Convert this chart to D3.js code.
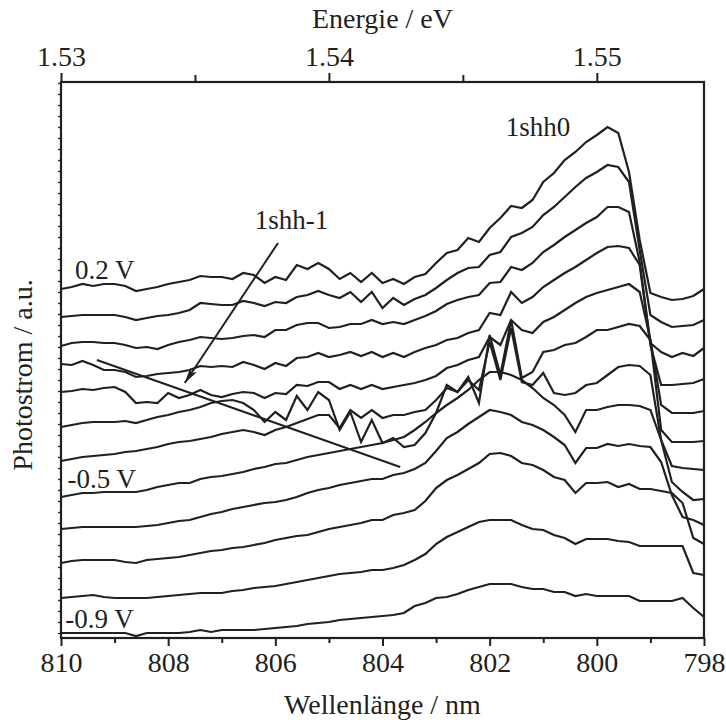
<!DOCTYPE html>
<html>
<head>
<meta charset="utf-8">
<script src="https://cdn.jsdelivr.net/npm/d3@7"></script>
<style>
  body { margin: 0; background: #fff; }
  text { font-family: "Liberation Serif", "Times New Roman", serif; fill: #231f20; }
</style>
</head>
<body>
<div id="chart"></div>
<script>
// wavelength grid (nm), 0.2 nm steps
const wavelength = [810, 809.8, 809.6, 809.4, 809.2, 809, 808.8, 808.6, 808.4, 808.2, 808,
  807.8, 807.6, 807.4, 807.2, 807, 806.8, 806.6, 806.4, 806.2, 806,
  805.8, 805.6, 805.4, 805.2, 805, 804.8, 804.6, 804.4, 804.2, 804,
  803.8, 803.6, 803.4, 803.2, 803, 802.8, 802.6, 802.4, 802.2, 802,
  801.8, 801.6, 801.4, 801.2, 801, 800.8, 800.6, 800.4, 800.2, 800,
  799.8, 799.6, 799.4, 799.2, 799, 798.8, 798.6, 798.4, 798.2, 798];

// photocurrent (a.u., curves already offset), one array per bias voltage
const pc_p02 = [349,351,354,352,354,354,352,347,349,351,354,356,358,362,361,361,359,365,363,355,361,358,373,369,375,369,359,365,356,365,355,359,354,361,364,375,385,388,400,396,410,420,432,430,438,456,465,478,486,496,503,511,505,466,398,345,341,338,339,342,349];
const pc_p01 = [321,322,323,323,323,323,321,318,320,322,323,325,328,335,334,333,333,337,335,332,336,335,341,343,347,343,340,346,336,346,330,340,333,339,343,350,358,365,370,371,383,386,401,405,411,423,431,441,451,460,466,473,471,456,388,323,316,311,312,313,318];
const pc_00 = [292,295,296,296,295,295,293,290,291,289,293,296,298,301,300,299,300,302,303,301,308,308,313,315,315,310,311,314,314,318,314,316,314,318,322,327,334,338,341,343,355,356,371,368,375,386,393,401,408,415,421,431,431,426,376,295,286,281,285,282,290];
const pc_m01 = [274,273,277,273,268,268,266,261,262,264,265,266,268,272,271,272,271,276,273,269,275,272,280,281,285,281,283,286,282,286,281,285,281,286,290,293,298,300,305,308,325,323,346,335,341,351,358,365,371,378,385,391,392,390,373,293,253,253,254,255,259];
const pc_m02 = [246,247,249,248,250,251,246,235,236,235,245,240,243,248,243,241,244,246,245,240,245,244,253,252,256,256,249,253,249,253,249,251,253,255,258,262,270,273,278,281,301,293,318,308,305,316,321,328,335,341,345,348,351,354,346,298,233,225,225,225,227];
const pc_m03 = [211,213,215,216,216,216,217,215,218,221,223,226,228,231,235,237,238,235,228,216,226,218,242,228,246,238,208,226,196,218,195,200,191,193,205,225,253,246,261,235,303,263,318,260,266,286,288,293,295,301,308,308,311,314,312,298,208,196,196,196,197];
const pc_m04 = [177,179,181,182,183,184,186,187,189,191,194,196,197,199,201,204,206,208,206,203,208,211,215,219,223,223,210,228,220,228,220,223,223,226,228,238,250,246,258,248,296,258,310,256,253,265,245,243,245,253,255,263,271,273,272,263,198,172,170,169,168];
const pc_m05 = [141,143,145,145,146,146,146,146,148,151,153,155,155,159,161,162,164,166,169,171,174,175,178,181,183,185,187,189,191,193,195,198,201,208,216,225,233,240,248,258,266,266,263,258,250,240,233,223,206,228,228,231,233,233,232,228,198,156,146,138,139];
const pc_m06 = [109,110,111,111,111,111,111,111,112,113,115,117,118,121,124,126,129,131,133,135,136,138,141,145,148,150,153,155,157,159,159,163,165,169,175,187,200,206,214,221,228,226,223,216,213,208,201,193,175,190,190,194,192,194,192,191,176,143,121,118,113];
const pc_m07 = [75,77,78,78,78,78,76,75,78,79,80,81,83,85,87,88,90,91,93,95,98,100,102,103,106,109,111,113,115,118,118,123,125,128,137,150,158,163,169,175,184,185,182,175,173,168,161,158,145,155,155,156,151,154,149,149,147,145,135,100,94];
const pc_m08 = [40,41,42,43,41,40,40,40,40,41,42,43,44,45,45,45,47,48,50,51,52,54,56,58,60,62,64,65,66,68,68,70,73,78,84,94,101,106,111,116,118,118,118,113,109,108,103,100,94,99,99,99,97,96,92,92,92,92,92,65,63];
const pc_m09 = [5,5,5,5,5,5,5,2,5,5,5,5,6,8,6,8,8,8,8,9,10,11,12,14,15,16,18,19,20,21,22,23,25,32,35,40,41,44,48,51,54,54,54,51,49,49,46,46,42,44,42,42,42,42,37,37,37,37,40,30,21];

const curves = [pc_p02, pc_p01, pc_00, pc_m01, pc_m02, pc_m03, pc_m04, pc_m05, pc_m06, pc_m07, pc_m08, pc_m09];

const wlMajor = [810, 808, 806, 804, 802, 800, 798];
const wlMinor = [809, 807, 805, 803, 801, 799];
const eMajor = [1.53, 1.54, 1.55];
const eMinor = [1.535, 1.545];

const W = 726, H = 724;
const margin = {top: 82, right: 22, bottom: 86, left: 61};
const iw = W - margin.left - margin.right;
const ih = H - margin.top - margin.bottom;
const ink = "#231f20";

const svg = d3.select("#chart").append("svg")
    .attr("width", W)
    .attr("height", H);

const g = svg.append("g")
    .attr("transform", `translate(${margin.left}, ${margin.top})`);

let x = d3.scaleLinear().domain([810, 798]).range([0, iw]);
let xe = d3.scaleLinear().domain([1.53, 1.554]).range([0, iw]);
let y = d3.scaleLinear().domain([0, 556]).range([ih, 0]);

// curves
const line = d3.line()
    .x((d, i) => x(wavelength[i]))
    .y(d => y(d));

g.selectAll("path.curve")
    .data(curves)
    .enter()
    .append("path")
    .attr("class", "curve")
    .attr("d", line)
    .attr("fill", "none")
    .attr("stroke", ink)
    .attr("stroke-width", 2.2)
    .attr("stroke-linejoin", "miter");

// bottom axis
let xMaj = g.append("g")
    .attr("transform", `translate(0, ${ih})`)
    .call(d3.axisBottom(x).tickValues(wlMajor).tickSize(8).tickPadding(6).tickFormat(d3.format("d")));
let xMin = g.append("g")
    .attr("transform", `translate(0, ${ih})`)
    .call(d3.axisBottom(x).tickValues(wlMinor).tickSize(5).tickFormat(""));

// top axis
let eMaj = g.append("g")
    .call(d3.axisTop(xe).tickValues(eMajor).tickSize(9).tickPadding(7).tickFormat(d3.format(".2f")));
let eMin = g.append("g")
    .call(d3.axisTop(xe).tickValues(eMinor).tickSize(7).tickFormat(""));

// small ticks on the left axis
let yMin = g.append("g")
    .call(d3.axisLeft(y).tickValues(d3.range(5, 556, 11)).tickSize(3).tickFormat(""));

[xMaj, xMin, eMaj, eMin, yMin].forEach(a => {
    a.select(".domain").remove();
    a.selectAll("line").attr("stroke", ink).attr("stroke-width", 2);
    a.selectAll("text")
        .style("font-family", "Liberation Serif, serif")
        .style("font-size", "28px")
        .attr("fill", ink);
});
yMin.selectAll("line").attr("stroke-width", 1.3);

// frame
g.append("rect")
    .attr("width", iw)
    .attr("height", ih)
    .attr("fill", "none")
    .attr("stroke", ink)
    .attr("stroke-width", 2.2);

// axis titles
svg.append("text")
    .attr("x", margin.left + iw / 2)
    .attr("y", 714)
    .style("text-anchor", "middle")
    .style("font-size", "28px")
    .text("Wellenlänge / nm");

svg.append("text")
    .attr("x", margin.left + iw / 2)
    .attr("y", 28)
    .style("text-anchor", "middle")
    .style("font-size", "28px")
    .text("Energie / eV");

svg.append("text")
    .attr("transform", `translate(${32}, ${375})rotate(-90)`)
    .style("text-anchor", "middle")
    .style("font-size", "28px")
    .text("Photostrom / a.u.");

// voltage labels
const voltLabels = [
    {text: "0.2 V", wl: 809.74, v: 359},
    {text: "-0.5 V", wl: 809.88, v: 150},
    {text: "-0.9 V", wl: 809.92, v: 10}
];
g.selectAll("text.volt")
    .data(voltLabels)
    .enter()
    .append("text")
    .attr("class", "volt")
    .attr("x", d => x(d.wl))
    .attr("y", d => y(d.v))
    .style("font-size", "27px")
    .text(d => d.text);

// peak labels
g.append("text")
    .attr("x", x(801.1))
    .attr("y", y(502))
    .style("text-anchor", "middle")
    .style("font-size", "27px")
    .text("1shh0");

g.append("text")
    .attr("x", x(805.7))
    .attr("y", y(409))
    .style("text-anchor", "middle")
    .style("font-size", "27px")
    .text("1shh-1");

// arrow to 1shh-1
svg.append("defs").append("marker")
    .attr("id", "head")
    .attr("viewBox", "0 0 16 8")
    .attr("refX", 16)
    .attr("refY", 4)
    .attr("markerWidth", 16)
    .attr("markerHeight", 8)
    .attr("markerUnits", "userSpaceOnUse")
    .attr("orient", "auto")
    .append("path")
    .attr("d", "M0,0 L16,4 L0,8 L4,4 Z")
    .attr("fill", ink);

g.append("line")
    .attr("x1", x(805.95)).attr("y1", y(395))
    .attr("x2", x(807.69)).attr("y2", y(255))
    .attr("stroke", ink)
    .attr("stroke-width", 2)
    .attr("marker-end", "url(#head)");

// straight guide line
g.append("line")
    .attr("x1", x(809.33)).attr("y1", y(278))
    .attr("x2", x(803.67)).attr("y2", y(171))
    .attr("stroke", ink)
    .attr("stroke-width", 2);
</script>
</body>
</html>
